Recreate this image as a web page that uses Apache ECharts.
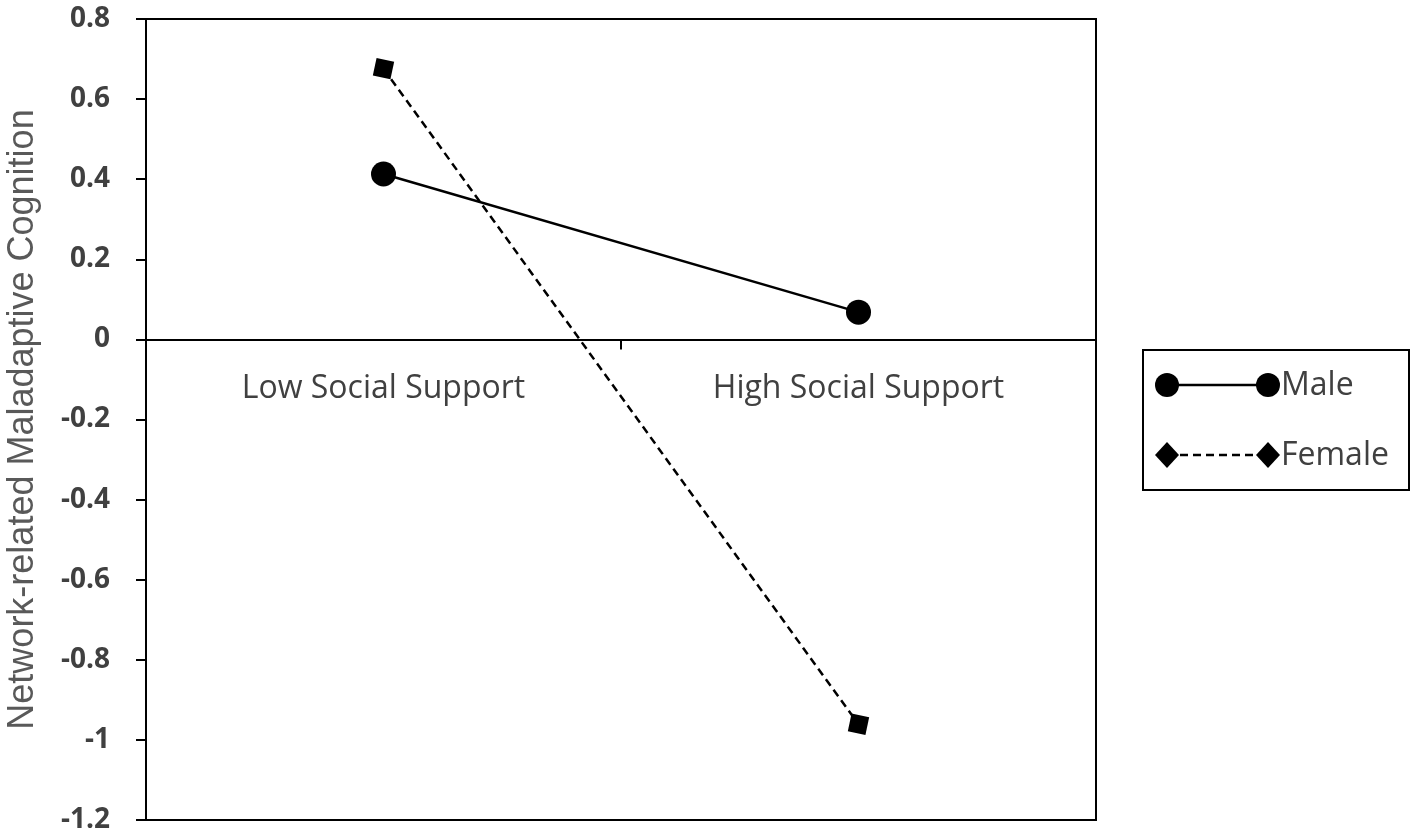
<!DOCTYPE html>
<html>
<head>
<meta charset="utf-8">
<script src="https://cdn.jsdelivr.net/npm/echarts@6/dist/echarts.min.js"></script>
<style>
  html, body { margin: 0; padding: 0; background: #fff; }
  #main { width: 1418px; height: 838px; }
</style>
</head>
<body>
<div id="main"></div>
<script>
var categories = ['Low Social Support', 'High Social Support'];
var maleValues = [0.413, 0.068];
var femaleValues = [0.676, -0.961];
var yTicks = ['-1.2', '-1', '-0.8', '-0.6', '-0.4', '-0.2', '0', '0.2', '0.4', '0.6', '0.8'];

var myChart = echarts.init(document.getElementById('main'));

var labelColor = '#404040';

var option = {
  animation: false,
  backgroundColor: '#fff',
  grid: {
    left: 146, right: 322, top: 19, bottom: 18,
    outerBoundsMode: 'none',
    containLabel: false,
    show: true, borderColor: '#000', borderWidth: 2, backgroundColor: 'transparent'
  },
  xAxis: {
    type: 'category',
    data: categories,
    boundaryGap: true,
    axisLine: { onZero: true, lineStyle: { color: '#000', width: 2 } },
    axisTick: { show: true, length: 10, lineStyle: { color: '#000', width: 2 } },
    axisLabel: {
      // labels stay at the grid bottom, so pull them up under the zero line
      margin: -447, color: labelColor, fontSize: 32,
      fontFamily: 'Open Sans'
    },
    splitLine: { show: false }
  },
  yAxis: {
    type: 'value',
    min: -1.2, max: 0.8, interval: 0.2,
    name: 'Network-related Maladaptive Cognition',
    nameLocation: 'middle',
    nameGap: 105,
    nameTextStyle: { color: '#595959', fontSize: 36, fontFamily: 'Liberation Sans' },
    axisLine: { show: true, lineStyle: { color: '#000', width: 2 } },
    axisTick: { show: true, length: 10, lineStyle: { color: '#000', width: 2 } },
    axisLabel: {
      margin: 36, color: labelColor, fontSize: 28, fontWeight: 'bold', fontFamily: 'Open Sans',
      formatter: function (v) {
        var i = Math.round((v + 1.2) / 0.2);
        return yTicks[i];
      }
    },
    splitLine: { show: false }
  },
  series: [
    {
      name: 'Male',
      type: 'line',
      data: maleValues,
      symbol: 'circle',
      symbolSize: 25,
      itemStyle: { color: '#000' },
      lineStyle: { color: '#000', width: 2.5, type: 'solid' },
      z: 3
    },
    {
      name: 'Female',
      type: 'line',
      data: femaleValues,
      symbol: 'rect',
      symbolSize: 18,
      symbolRotate: -12,
      itemStyle: { color: '#000' },
      lineStyle: { color: '#000', width: 2.5, type: [8, 5] },
      z: 3
    }
  ],
  graphic: [
    { type: 'rect', shape: { x: 1143, y: 350, width: 266, height: 140 },
      style: { fill: '#fff', stroke: '#000', lineWidth: 2 } },
    { type: 'line', shape: { x1: 1167, y1: 385, x2: 1268, y2: 385 },
      style: { stroke: '#000', lineWidth: 2.5 } },
    { type: 'circle', shape: { cx: 1167, cy: 385, r: 12 }, style: { fill: '#000' } },
    { type: 'circle', shape: { cx: 1268, cy: 385, r: 12 }, style: { fill: '#000' } },
    { type: 'text', x: 1281, y: 386,
      style: { text: 'Male', fill: labelColor, font: '32px "Open Sans"', textVerticalAlign: 'middle' } },
    { type: 'line', shape: { x1: 1167, y1: 455, x2: 1268, y2: 455 },
      style: { stroke: '#000', lineWidth: 2.5, lineDash: [8, 5] } },
    { type: 'polygon', shape: { points: [[1167, 442], [1179, 455], [1167, 468], [1155, 455]] },
      style: { fill: '#000' } },
    { type: 'polygon', shape: { points: [[1268, 442], [1280, 455], [1268, 468], [1256, 455]] },
      style: { fill: '#000' } },
    { type: 'text', x: 1281, y: 456,
      style: { text: 'Female', fill: labelColor, font: '32px "Open Sans"', textVerticalAlign: 'middle' } }
  ]
};

myChart.setOption(option);
window.addEventListener('resize', function () {
  myChart.resize();
});
</script>
</body>
</html>
